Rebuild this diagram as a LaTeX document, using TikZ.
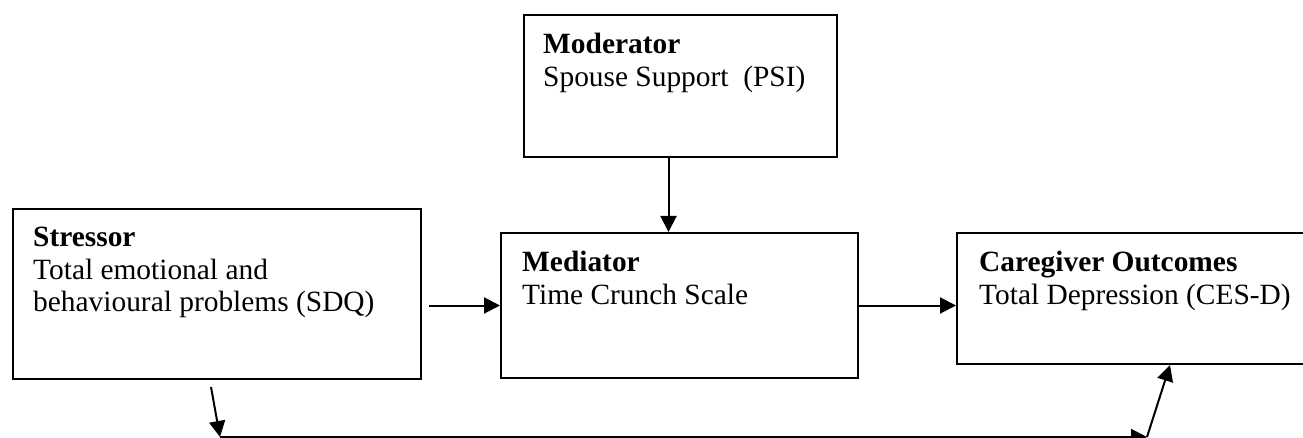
\documentclass[tikz,border=0pt]{standalone}
\usepackage{fontspec}
\setmainfont{Liberation Serif}
\usetikzlibrary{arrows.meta,calc}

\begin{document}
\begin{tikzpicture}[x=1pt,y=-1pt,
  box/.style={draw=black, line width=2pt, fill=white, inner sep=0pt, anchor=north west},
  txt/.style={inner sep=0pt, anchor=north west, align=left,
              font=\fontsize{29.4}{32.5}\selectfont},
  arr/.style={line width=2pt, -{Triangle[length=16pt,width=16pt]}}]

  % canvas
  \fill[white] (0,0) rectangle (1303,438);
  \useasboundingbox (0,0) rectangle (1303,438);
  \clip (0,0) rectangle (1303,438);

  % boxes
  \node[box, minimum width=408pt, minimum height=170pt] (stressor) at (12,208) {};
  \node[box, minimum width=313pt, minimum height=142pt] (moderator) at (523,14) {};
  \node[box, minimum width=357pt, minimum height=145pt] (mediator) at (500,232) {};
  \node[box, minimum width=364pt, minimum height=131pt] (outcome) at (956,232) {};

  % box texts
  \node[txt] (stressorT) at ($(stressor.north west)+(21,19)$)
    {\textbf{Stressor}\\Total emotional and\\behavioural problems (SDQ)};
  \node[txt] (moderatorT) at ($(moderator.north west)+(20,19)$)
    {\textbf{Moderator}\\Spouse Support\ \ (PSI)};
  \node[txt] (mediatorT) at ($(mediator.north west)+(22,19)$)
    {\textbf{Mediator}\\Time Crunch Scale};
  \node[txt] (outcomeT) at ($(outcome.north west)+(23,19)$)
    {\textbf{Caregiver Outcomes}\\Total Depression (CES-D)};

  % paths between boxes
  \draw[arr] ([xshift=-12pt]moderator.south) -- ([xshift=-12pt]moderator.south |- mediator.north);
  \draw[arr] ([xshift=7pt]stressor.east |- mediator.west) -- (mediator.west);
  \draw[arr] (mediator.east) -- (outcome.west |- mediator.east);

  % direct path underneath
  \coordinate (d1) at (211,387);
  \coordinate (d2) at (220,437);
  \coordinate (d3) at (1147,437);
  \coordinate (d4) at (1170,365);
  \draw[arr] (d1) -- (d2);
  \draw[arr] (d2) -- (d3);
  \draw[arr] (d3) -- (d4);
\end{tikzpicture}
\end{document}
